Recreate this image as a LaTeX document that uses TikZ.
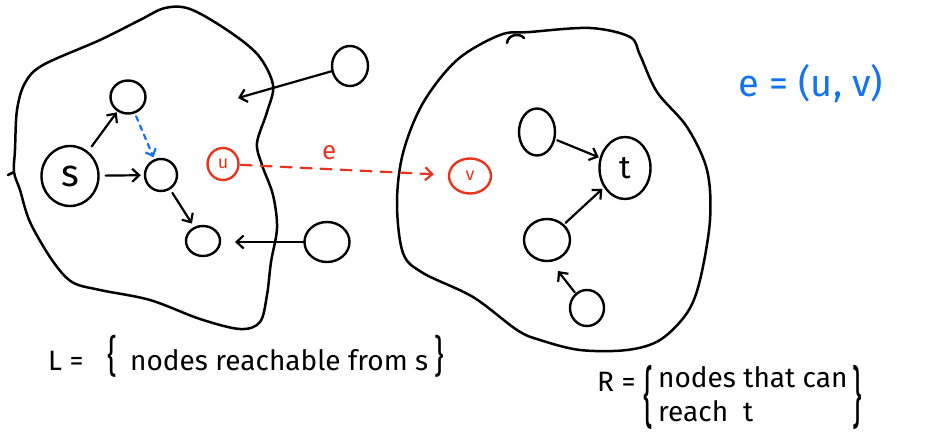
\documentclass[tikz,border=0pt]{standalone}
\usepackage{fontspec}
\setmainfont{Fira Sans}
\usetikzlibrary{arrows.meta,shapes.geometric}
\definecolor{penred}{HTML}{E8341F}
\definecolor{penblue}{HTML}{1473F0}
\tikzset{
  pen/.style={line width=2.5pt, line cap=round, line join=round},
  blob/.style={pen, draw=black},
  circ/.style={ellipse, draw, line width=2.4pt, inner sep=0pt},
  arr/.style={pen, line width=2.2pt, -{Straight Barb[length=7pt,width=13pt,line width=2.2pt]}},
  redarr/.style={pen, line width=2.2pt, draw=penred, dash pattern=on 11pt off 9pt, -{Straight Barb[length=7pt,width=13pt,line width=2.2pt]}},
  bluearr/.style={pen, line width=2.2pt, draw=penblue, dash pattern=on 5pt off 5pt, -{Straight Barb[length=6pt,width=11pt,line width=2.2pt]}},
  lbl/.style={inner sep=0pt, font=\fontsize{28}{36}\selectfont},
  bracetxt/.style={inner sep=0pt, font=\fontsize{30}{30}\selectfont}
}
\begin{document}
\begin{tikzpicture}[x=1pt,y=-1pt]
\useasboundingbox (0,0) rectangle (936,441);
% left blob
\draw[blob] plot[smooth cycle, tension=0.55] coordinates {
 (15,150) (17,110) (25,83) (43,65) (100,40) (140,20) (165,8) (190,9) (227,30)
 (258,55) (273,85) (267,112) (257,143) (262,165) (273,195) (277,228) (271,262)
 (267,295) (260,322) (240,329) (200,319) (150,300) (100,290) (72,282) (52,260)
 (30,222) (20,190) (14,172)};
\draw[pen] (8,175) -- (14,172);
% right blob
\draw[blob] plot[smooth cycle, tension=0.55] coordinates {
 (500,35) (530,32) (590,28) (630,37) (640,55) (657,92) (687,127) (707,170)
 (710,220) (700,280) (687,313) (660,340) (627,350) (580,350) (540,340) (517,330)
 (473,297) (423,273) (403,253) (397,203) (403,153) (423,103) (457,60)};
\draw[pen] (507,43) .. controls (508,34) and (520,33) .. (524,38);

% left nodes
\node[circ, minimum width=57pt, minimum height=60pt, font=\fontsize{38}{38}\selectfont] (s) at (70,176) {s};
\node[circ, minimum width=35pt, minimum height=33pt] (n1) at (128,97) {};
\node[circ, minimum width=32pt, minimum height=32pt] (n2) at (161,175) {};
\node[circ, minimum width=34pt, minimum height=30pt] (n3) at (203,241) {};
\node[circ, draw=penred, text=penred, minimum width=31pt, minimum height=32pt, font=\fontsize{18}{18}\selectfont] (u) at (223,164) {u};
\node[circ, minimum width=36pt, minimum height=40pt] (o1) at (350,66) {};
\node[circ, minimum width=45pt, minimum height=40pt] (o2) at (327,242) {};
\coordinate (o1end) at (238,98);
\coordinate (o2end) at (235,242);

% right nodes
\node[circ, draw=penred, text=penred, minimum width=42pt, minimum height=35pt, font=\fontsize{18}{18}\selectfont] (v) at (470,176) {v};
\node[circ, minimum width=51pt, minimum height=62pt, font=\fontsize{32}{32}\selectfont] (t) at (625,168) {t};
\node[circ, minimum width=36pt, minimum height=47pt] (r1) at (537,132) {};
\node[circ, minimum width=46pt, minimum height=42pt] (r2) at (547,240) {};
\node[circ, minimum width=34pt, minimum height=36pt] (r3) at (587,308) {};
\coordinate (r3end) at (558,271);

% connectors
\draw[arr, shorten <=6pt, shorten >=1pt] (s) -- (n1);
\draw[arr, shorten <=6pt, shorten >=3pt] (s) -- (n2);
\draw[bluearr, shorten <=3pt, shorten >=2pt] (n1) -- (n2);
\draw[arr, shorten <=4pt, shorten >=4pt] (n2) -- (n3);
\draw[arr] (o1) -- (o1end);
\draw[arr] (o2) -- (o2end);
\draw[redarr, shorten <=1pt, shorten >=14pt] (u) -- node[pos=0.43, above=5pt, text=penred, font=\fontsize{26}{26}\selectfont] (elbl) {e} (v);
\draw[arr, shorten <=2pt, shorten >=1pt] (r1) -- (t);
\draw[arr, shorten <=2pt, shorten >=2pt] (r2) -- (t);
\draw[arr, shorten <=1pt] (r3) -- (r3end);

% L label
\node[lbl, anchor=base west] (Lname) at (48,370) {L =};
\node[lbl, anchor=base west] (Ltext) at (130,370) {nodes reachable from s};
\node[bracetxt] (Lopen) at (112,356) {\scalebox{1}[1.45]{\{}};
\node[bracetxt] (Lclose) at (439,356) {\scalebox{1}[1.45]{\}}};

% R label
\node[lbl, anchor=base west] (Rname) at (597,391) {R =};
\node[lbl, anchor=base west] (Rline1) at (658,387) {nodes that can};
\node[lbl, anchor=base west] (Rline2) at (658,421) {reach\ \ t};
\node[bracetxt] (Ropen) at (648,397) {\scalebox{1}[2.2]{\{}};
\node[bracetxt] (Rclose) at (857,397) {\scalebox{1}[2.2]{\}}};

% edge definition
\node[lbl, text=penblue, font=\fontsize{38}{38}\selectfont] (edef) at (811,84) {e = (u, v)};
\end{tikzpicture}
\end{document}
